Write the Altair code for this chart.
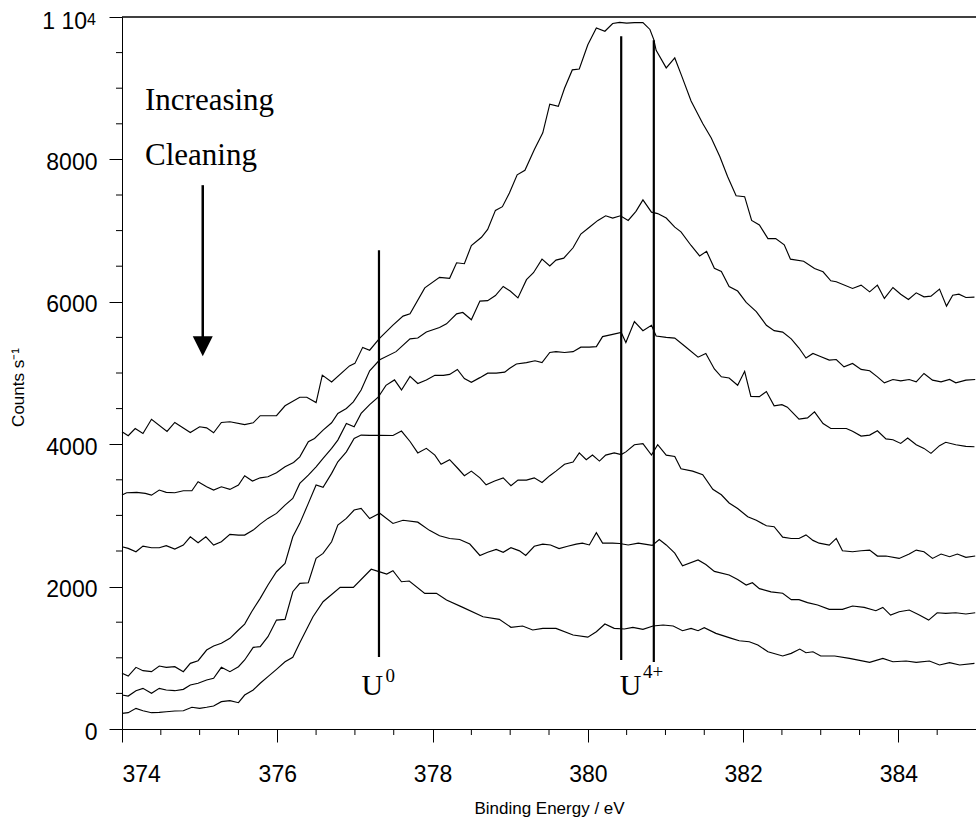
import altair as alt
import pandas as pd

# ---------------- data ----------------
A_x = [374.00, 374.08, 374.17, 374.27, 374.38, 374.58, 374.68, 374.88, 375.00, 375.09, 375.18, 375.28, 375.39,
       375.58, 375.69, 375.78, 375.99, 376.10, 376.29, 376.38, 376.50, 376.58, 376.70, 376.93, 377.00, 377.10,
       377.19, 377.32, 377.49, 377.62, 377.71, 377.90, 378.09, 378.22, 378.31, 378.41, 378.50, 378.63, 378.71,
       378.81, 378.90, 378.99, 379.09, 379.19, 379.31, 379.42, 379.51, 379.62, 379.70, 379.80, 379.89, 380.00,
       380.11, 380.22, 380.32, 380.41, 380.50, 380.60, 380.71, 380.80, 380.85, 380.88, 381.01, 381.12, 381.21,
       381.33, 381.48, 381.59, 381.70, 381.80, 381.91, 382.02, 382.11, 382.21, 382.32, 382.42, 382.53, 382.61,
       382.78, 382.92, 383.03, 383.13, 383.20, 383.41, 383.52, 383.63, 383.73, 383.82, 383.93, 384.03, 384.13,
       384.23, 384.33, 384.42, 384.53, 384.62, 384.70, 384.78, 384.87, 384.98]
A_y = [4175, 4120, 4220, 4150, 4350, 4180, 4305, 4165, 4245, 4230, 4160, 4305, 4315,
       4275, 4300, 4400, 4400, 4540, 4660, 4660, 4585, 4970, 4875, 5100, 5135, 5360,
       5320, 5490, 5672, 5799, 5831, 6196, 6343, 6330, 6548, 6535, 6791, 6906, 7016,
       7284, 7336, 7528, 7784, 7848, 8136, 8373, 8776, 8744, 9000, 9257, 9269, 9609,
       9845, 9800, 9909, 9925, 9915, 9920, 9920, 9825, 9683, 9533, 9285, 9425, 9170,
       8820, 8504, 8300, 8040, 7760, 7490, 7476, 7143, 7079, 6888, 6888, 6800, 6599,
       6570, 6468, 6421, 6295, 6281, 6187, 6234, 6140, 6234, 6047, 6201, 6107, 6032,
       6126, 6070, 6079, 6178, 5939, 6093, 6107, 6061, 6065]

B_x = [374.00, 374.06, 374.19, 374.30, 374.38, 374.48, 374.57, 374.68, 374.79, 374.90, 374.98, 375.09, 375.18,
       375.28, 375.39, 375.50, 375.58, 375.68, 375.78, 375.88, 375.99, 376.10, 376.21, 376.29, 376.40, 376.48,
       376.59, 376.70, 376.78, 376.89, 376.98, 377.08, 377.19, 377.32, 377.53, 377.71, 377.81, 377.92, 378.09,
       378.18, 378.31, 378.39, 378.50, 378.61, 378.71, 378.81, 378.91, 379.00, 379.10, 379.21, 379.30, 379.41,
       379.51, 379.59, 379.69, 379.81, 379.91, 380.02, 380.13, 380.23, 380.32, 380.42, 380.52, 380.62, 380.71,
       380.82, 380.90, 381.01, 381.12, 381.20, 381.33, 381.44, 381.53, 381.63, 381.72, 381.82, 381.93, 382.04,
       382.17, 382.30, 382.40, 382.51, 382.62, 382.72, 382.81, 382.90, 382.98, 383.11, 383.20, 383.30, 383.41,
       383.52, 383.63, 383.73, 383.82, 383.93, 384.03, 384.14, 384.23, 384.33, 384.44, 384.55, 384.66, 384.74,
       384.87, 384.99]
B_y = [3285, 3318, 3323, 3309, 3285, 3356, 3323, 3318, 3346, 3346, 3472, 3402, 3356,
       3402, 3365, 3426, 3557, 3482, 3528, 3542, 3599, 3683, 3744, 3823, 4034, 4081,
       4198, 4301, 4432, 4502, 4595, 4760, 5030, 5185, 5300, 5479, 5492, 5575, 5639,
       5690, 5831, 5850, 5748, 6010, 6016, 6087, 6215, 6151, 6055, 6311, 6408, 6599,
       6503, 6586, 6613, 6759, 6951, 7048, 7143, 7208, 7176, 7208, 7143, 7271, 7432,
       7259, 7239, 7176, 7048, 6983, 6791, 6644, 6708, 6471, 6426, 6215, 6151, 5991,
       5863, 5671, 5595, 5575, 5479, 5351, 5210, 5275, 5240, 5181, 5190, 5087, 5134,
       5050, 5031, 4946, 4862, 4909, 4890, 4909, 4876, 4994, 4900, 4876, 4909, 4862,
       4900, 4909]

C_x = [374.00, 374.08, 374.18, 374.27, 374.38, 374.48, 374.57, 374.68, 374.79, 374.88, 374.98, 375.08, 375.18,
       375.28, 375.39, 375.50, 375.58, 375.69, 375.78, 375.88, 375.99, 376.10, 376.20, 376.29, 376.40, 376.50,
       376.59, 376.70, 376.78, 376.89, 376.99, 377.08, 377.19, 377.30, 377.40, 377.51, 377.60, 377.71, 377.81,
       377.92, 378.03, 378.14, 378.22, 378.32, 378.41, 378.50, 378.61, 378.71, 378.82, 378.93, 378.99, 379.08,
       379.21, 379.32, 379.41, 379.51, 379.59, 379.70, 379.81, 379.91, 380.02, 380.11, 380.19, 380.32, 380.43,
       380.49, 380.60, 380.71, 380.82, 380.88, 381.01, 381.12, 381.25, 381.42, 381.52, 381.63, 381.72, 381.82,
       381.93, 382.02, 382.10, 382.21, 382.30, 382.40, 382.50, 382.57, 382.72, 382.83, 382.92, 383.03, 383.13,
       383.33, 383.41, 383.52, 383.63, 383.73, 383.84, 383.93, 384.03, 384.12, 384.23, 384.33, 384.42, 384.53,
       384.61, 384.74, 384.87, 384.98]
C_y = [2560, 2537, 2490, 2569, 2546, 2546, 2574, 2527, 2583, 2700, 2616, 2700, 2583,
       2630, 2733, 2724, 2724, 2794, 2878, 2958, 3028, 3145, 3239, 3449, 3566, 3683,
       3800, 3941, 4058, 4292, 4245, 4432, 4555, 4660, 4826, 4903, 4762, 4953, 4852,
       4903, 4967, 4967, 4980, 5050, 4922, 4870, 4935, 4998, 4998, 5012, 5063, 5127,
       5146, 5172, 5146, 5288, 5300, 5288, 5300, 5363, 5363, 5370, 5511, 5543, 5570,
       5428, 5723, 5595, 5671, 5520, 5500, 5490, 5375, 5222, 5275, 5057, 4947, 4930,
       4828, 5024, 4672, 4668, 4740, 4538, 4556, 4520, 4353, 4370, 4455, 4290, 4221,
       4221, 4182, 4114, 4128, 4188, 4074, 4062, 4011, 4088, 3992, 3941, 3871, 3980,
       4027, 3992, 3970, 3964]

D_x = [374.00, 374.08, 374.18, 374.27, 374.38, 374.48, 374.57, 374.68, 374.79, 374.88, 374.98, 375.09, 375.18,
       375.28, 375.39, 375.50, 375.58, 375.67, 375.78, 375.88, 375.99, 376.10, 376.20, 376.29, 376.40, 376.50,
       376.59, 376.70, 376.78, 376.89, 376.99, 377.08, 377.19, 377.32, 377.49, 377.60, 377.71, 377.81, 377.92,
       378.03, 378.11, 378.22, 378.33, 378.41, 378.50, 378.61, 378.69, 378.80, 378.91, 379.01, 379.10, 379.21,
       379.31, 379.41, 379.51, 379.59, 379.70, 379.81, 379.89, 379.98, 380.06, 380.15, 380.23, 380.34, 380.43,
       380.49, 380.60, 380.71, 380.82, 380.90, 381.01, 381.12, 381.20, 381.35, 381.48, 381.61, 381.72, 381.82,
       381.93, 382.06, 382.17, 382.30, 382.40, 382.51, 382.62, 382.72, 382.81, 382.90, 382.98, 383.11, 383.20,
       383.28, 383.41, 383.52, 383.63, 383.73, 383.84, 384.01, 384.14, 384.23, 384.33, 384.44, 384.55, 384.66,
       384.76, 384.87, 384.99]
D_y = [782, 744, 866, 819, 805, 885, 866, 875, 805, 922, 959, 1109, 1165,
       1203, 1273, 1390, 1474, 1647, 1835, 2022, 2209, 2326, 2700, 2888, 3169, 3426,
       3393, 3590, 3753, 3893, 4081, 4128, 4125, 4125, 4122, 4185, 4038, 3878, 3942,
       3847, 3718, 3782, 3655, 3558, 3622, 3527, 3430, 3482, 3527, 3417, 3495, 3495,
       3527, 3462, 3558, 3622, 3718, 3750, 3878, 3782, 3847, 3763, 3847, 3878, 3855,
       3892, 3993, 4007, 3847, 3993, 3847, 3827, 3655, 3622, 3572, 3367, 3290, 3174,
       3097, 2982, 2931, 2854, 2841, 2694, 2675, 2675, 2726, 2649, 2610, 2583, 2677,
       2503, 2490, 2503, 2513, 2429, 2429, 2396, 2457, 2513, 2490, 2396, 2457, 2419,
       2457, 2410, 2429]

E_x = [374.00, 374.08, 374.18, 374.27, 374.38, 374.48, 374.57, 374.68, 374.79, 374.88, 374.98, 375.09, 375.18,
       375.28, 375.39, 375.50, 375.58, 375.69, 375.78, 375.88, 375.99, 376.10, 376.20, 376.29, 376.40, 376.50,
       376.59, 376.70, 376.78, 376.89, 376.99, 377.08, 377.19, 377.32, 377.49, 377.62, 377.81, 377.96, 378.09,
       378.22, 378.35, 378.48, 378.61, 378.71, 378.82, 378.91, 379.01, 379.12, 379.20, 379.31, 379.42, 379.52,
       379.63, 379.74, 379.85, 379.93, 380.02, 380.11, 380.19, 380.32, 380.41, 380.52, 380.65, 380.73, 380.83,
       380.92, 381.01, 381.12, 381.22, 381.42, 381.52, 381.63, 381.82, 381.93, 382.04, 382.12, 382.21, 382.36,
       382.51, 382.62, 382.72, 382.83, 382.96, 383.11, 383.28, 383.41, 383.56, 383.71, 383.80, 383.90, 384.01,
       384.14, 384.27, 384.39, 384.50, 384.61, 384.74, 384.87, 384.99]
E_y = [477, 463, 538, 571, 501, 571, 548, 538, 557, 618, 642, 688, 712,
       866, 805, 875, 969, 1147, 1156, 1296, 1530, 1540, 1928, 2045, 2054, 2396,
       2467, 2630, 2864, 2958, 3075, 3098, 2955, 3030, 2887, 2932, 2905, 2790, 2714,
       2675, 2662, 2597, 2437, 2482, 2522, 2482, 2547, 2502, 2437, 2566, 2597, 2585,
       2534, 2566, 2597, 2611, 2585, 2757, 2611, 2611, 2605, 2585, 2611, 2597, 2579,
       2662, 2585, 2470, 2291, 2374, 2310, 2214, 2162, 2099, 2022, 2054, 1971, 1926,
       1907, 1817, 1817, 1775, 1741, 1680, 1680, 1727, 1708, 1661, 1708, 1600, 1647,
       1671, 1600, 1530, 1633, 1624, 1633, 1615, 1633]

F_x = [374.00, 374.08, 374.18, 374.27, 374.38, 374.48, 374.57, 374.68, 374.79, 374.90, 375.00, 375.09, 375.18,
       375.28, 375.39, 375.50, 375.58, 375.69, 375.78, 375.88, 375.99, 376.10, 376.20, 376.29, 376.46, 376.59,
       376.81, 376.98, 377.21, 377.32, 377.41, 377.49, 377.60, 377.70, 377.90, 378.05, 378.18, 378.39, 378.65,
       378.86, 379.01, 379.16, 379.29, 379.42, 379.59, 379.81, 380.00, 380.11, 380.22, 380.34, 380.47, 380.58,
       380.71, 380.84, 380.97, 381.10, 381.22, 381.33, 381.42, 381.50, 381.65, 381.85, 381.95, 382.08, 382.19,
       382.32, 382.51, 382.62, 382.73, 382.81, 382.90, 383.00, 383.18, 383.37, 383.63, 383.80, 383.93, 384.10,
       384.23, 384.40, 384.53, 384.66, 384.79, 384.98]
F_y = [220, 229, 290, 257, 229, 234, 243, 253, 257, 305, 290, 305, 323,
       384, 398, 369, 477, 548, 642, 735, 838, 945, 1006, 1210, 1577, 1788,
       1990, 1990, 2244, 2207, 2176, 2223, 2068, 2078, 1905, 1905, 1811, 1708, 1577,
       1540, 1428, 1446, 1390, 1413, 1413, 1320, 1290, 1366, 1474, 1413, 1404, 1428,
       1400, 1446, 1460, 1446, 1380, 1413, 1380, 1422, 1343, 1273, 1240, 1226, 1179,
       1085, 1025, 1062, 1123, 1071, 1085, 1025, 1025, 992, 936, 992, 945, 955,
       936, 955, 899, 931, 899, 922]

CURVES = [("A", A_x, A_y), ("B", B_x, B_y), ("C", C_x, C_y),
          ("D", D_x, D_y), ("E", E_x, E_y), ("F", F_x, F_y)]

X_MAJOR = [374, 376, 378, 380, 382, 384]
X_MINOR = [374.5, 375, 375.5, 376.5, 377, 377.5, 378.5, 379, 379.5, 380.5, 381, 381.5,
           382.5, 383, 383.5, 384.5]
Y_MAJOR = [0, 2000, 4000, 6000, 8000, 10000]
Y_MINOR = [500, 1000, 1500, 2500, 3000, 3500, 4500, 5000, 5500, 6500, 7000, 7500,
           8500, 9000, 9500]
Y_TOP_LABEL = "1 10"
Y_TOP_EXP = "4"

# marker lines (U0, U4+ pair)
MARK_X = [377.31, 380.43, 380.85]
MARK_Y0 = [1011, 969, 940]
MARK_Y1 = [6725, 9730, 9674]

# annotations
BIG_TEXT = ["Increasing", "Cleaning", "U", "U"]
BIG_X = [374.296, 374.296, 377.085, 380.41]
BIG_Y = [8694, 7921, 478, 478]
BIG_SIZE = [31, 31, 30, 30]
SUP_TEXT = ["0", "4+"]
SUP_X = [377.394, 380.71]
SUP_Y = [666, 713]

ARROW_X = 375.04
ARROW_TOP = 7638
ARROW_BASE = 5450
ARROW_HEAD = 5375

# ---------------- build ----------------
rows = []
for name, xs, ys in CURVES:
    for xv, yv in zip(xs, ys):
        rows.append({"curve": name, "x": xv, "y": yv})
df = pd.DataFrame(rows)

SANS = "Liberation Sans"
SERIF = "Liberation Serif"
W, H = 854, 712

xscale = alt.Scale(domain=[374, 385], nice=False, zero=False)
yscale = alt.Scale(domain=[0, 10000], nice=False, zero=False)

x_axis = alt.Axis(values=X_MAJOR, format="d", grid=False, tickSize=13, tickColor="black",
                  tickWidth=1, domainColor="black", domainWidth=1, labelFont=SANS,
                  labelFontSize=23, labelColor="black", labelPadding=21,
                  title="Binding Energy / eV", titleFont=SANS, titleFontSize=17,
                  titleFontWeight="normal", titleColor="black", titleY=84,
                  titleBaseline="alphabetic")
y_axis = alt.Axis(values=Y_MAJOR, format="d", grid=False, tickSize=13, tickColor="black",
                  tickWidth=1, domainColor="black", domainWidth=1, labelFont=SANS,
                  labelFontSize=23, labelColor="black", labelPadding=12, labelOffset=3,
                  labelExpr="datum.value == 10000 ? '' : datum.label",
                  title="Counts s\u207b\u00b9", titleFont=SANS, titleFontSize=17,
                  titleFontWeight="normal", titleColor="black", titleX=-99, titleY=370,
                  titleAngle=270, titleBaseline="alphabetic", titleAlign="center")

lines = alt.Chart(df).mark_line(color="black", strokeWidth=1.15).encode(
    x=alt.X("x:Q", scale=xscale, axis=x_axis),
    y=alt.Y("y:Q", scale=yscale, axis=y_axis),
    detail="curve:N",
    order="x:Q",
)

xminor = alt.Chart(pd.DataFrame({"x": X_MINOR})).mark_rule(color="black", strokeWidth=1).encode(
    x="x:Q", y=alt.value(H), y2=alt.value(H + 6))
yminor = alt.Chart(pd.DataFrame({"y": Y_MINOR})).mark_rule(color="black", strokeWidth=1).encode(
    y="y:Q", x=alt.value(0), x2=alt.value(-6))

top_df = pd.DataFrame({"y": [Y_MAJOR[-1]], "t": [Y_TOP_LABEL], "e": [Y_TOP_EXP]})
top_label = alt.Chart(top_df).mark_text(font=SANS, fontSize=23, align="right",
                                        baseline="alphabetic", dy=12, color="black").encode(
    y="y:Q", x=alt.value(-35), text="t:N")
top_exp = alt.Chart(top_df).mark_text(font=SANS, fontSize=16, align="left",
                                      baseline="alphabetic", dy=8, color="black").encode(
    y="y:Q", x=alt.value(-35), text="e:N")

top = alt.Chart(pd.DataFrame({"x": [374], "x2": [385], "y": [10000]})).mark_rule(
    color="black", strokeWidth=1.6).encode(x="x:Q", x2="x2:Q", y="y:Q")

markers = alt.Chart(pd.DataFrame({"x": MARK_X, "y": MARK_Y0, "y2": MARK_Y1})).mark_rule(
    color="black", strokeWidth=2.2).encode(x="x:Q", y="y:Q", y2="y2:Q")

shaft = alt.Chart(pd.DataFrame({"x": [ARROW_X], "y": [ARROW_TOP], "y2": [ARROW_BASE]})).mark_rule(
    color="black", strokeWidth=2.5).encode(x="x:Q", y="y:Q", y2="y2:Q")
head = alt.Chart(pd.DataFrame({"x": [ARROW_X], "y": [ARROW_HEAD]})).mark_point(
    shape="M-1,-1L1,-1L0,1Z", size=400, filled=True, color="black", opacity=1,
    strokeWidth=0).encode(x="x:Q", y="y:Q")

big = alt.Chart(pd.DataFrame({"t": BIG_TEXT, "x": BIG_X, "y": BIG_Y, "s": BIG_SIZE})).mark_text(
    font=SERIF, align="left", baseline="alphabetic", color="black").encode(
    x="x:Q", y="y:Q", text="t:N", size=alt.Size("s:Q", scale=None, legend=None))
sup = alt.Chart(pd.DataFrame({"t": SUP_TEXT, "x": SUP_X, "y": SUP_Y})).mark_text(
    font=SERIF, fontSize=19, align="left", baseline="alphabetic", color="black").encode(
    x="x:Q", y="y:Q", text="t:N")

chart = alt.layer(lines, xminor, yminor, top_label, top_exp, top, markers, shaft, head,
                  big, sup).properties(
    width=W, height=H,
    autosize=alt.AutoSizeParams(type="none"),
    padding={"left": 122, "top": 17, "right": 0, "bottom": 93},
    background="white",
).configure_view(stroke=None)

chart.save("out.html", embed_options={"renderer": "svg", "actions": False})
